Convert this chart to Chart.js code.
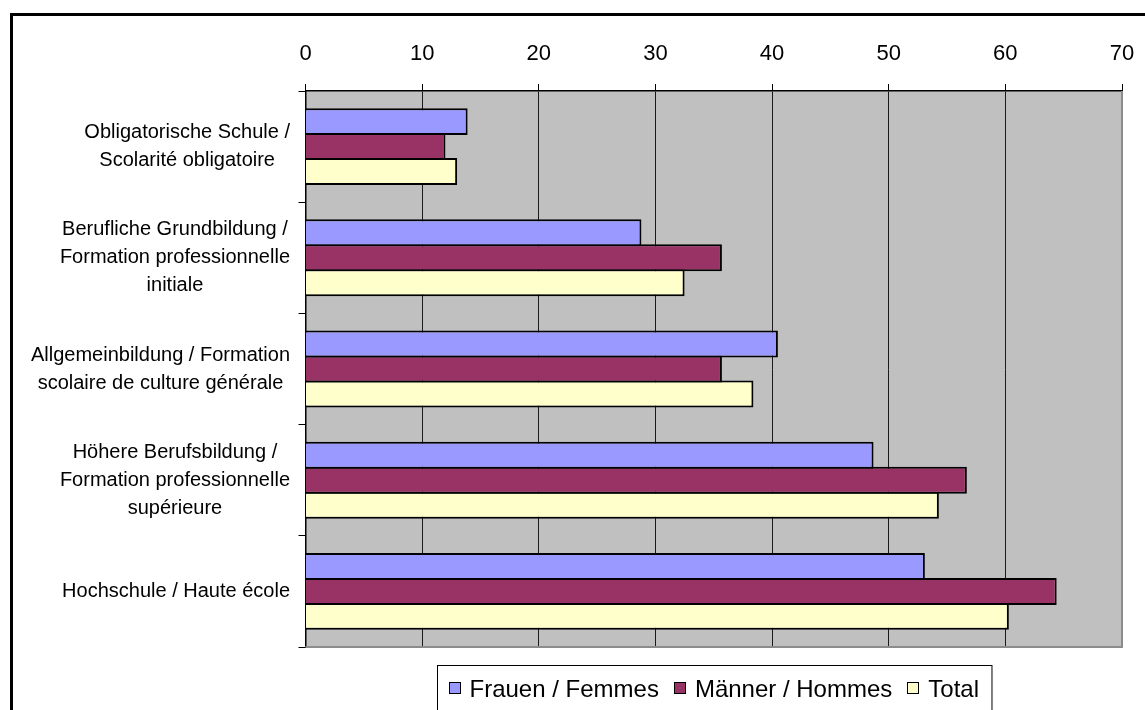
<!DOCTYPE html>
<html>
<head>
<meta charset="utf-8">
<script src="https://cdn.jsdelivr.net/npm/chart.js@4.4.1/dist/chart.umd.min.js"></script>
<style>
  html, body { margin: 0; padding: 0; background: #fff; }
  #wrap { position: absolute; left: 0; top: 0; width: 1145px; height: 710px; }
</style>
</head>
<body>
<div id="wrap"><canvas id="eduChart" width="1145" height="710"></canvas></div>
<script>
const categories = [
    ["Obligatorische Schule /", "Scolarité obligatoire"],
    ["Berufliche Grundbildung /", "Formation professionnelle", "initiale"],
    ["Allgemeinbildung / Formation", "scolaire de culture générale"],
    ["Höhere Berufsbildung /", "Formation professionnelle", "supérieure"],
    ["Hochschule / Haute école"]
];
const seriesNames = ["Frauen / Femmes", "Männer / Hommes", "Total"];
const frauen = [13.9, 28.8, 40.5, 48.7, 53.1];
const maenner = [12.0, 35.7, 35.7, 56.7, 64.4];
const total = [13.0, 32.5, 38.4, 54.3, 60.3];
const xMin = 0, xMax = 70, xStep = 10;

const FONT = '"Liberation Sans", Arial, sans-serif';

// frame, grey plot background
const backgroundPlugin = {
    id: 'bgPlot',
    beforeDraw(chart) {
        const ctx = chart.ctx;
        const a = chart.chartArea;
        ctx.save();
        ctx.fillStyle = '#000';
        ctx.fillRect(10, 13, 3, chart.height - 13);
        ctx.fillRect(10, 13, chart.width - 10, 3);
        ctx.fillStyle = '#c0c0c0';
        ctx.fillRect(a.left, a.top, a.right - a.left, a.bottom - a.top);
        ctx.restore();
    },
    afterDatasetsDraw(chart) {
        const ctx = chart.ctx;
        const a = chart.chartArea;
        ctx.save();
        ctx.strokeStyle = '#8c8c8c';
        ctx.lineWidth = 2;
        ctx.beginPath();
        ctx.moveTo(a.right, a.top);
        ctx.lineTo(a.right, a.bottom);
        ctx.lineTo(a.left, a.bottom);
        ctx.stroke();
        ctx.restore();
    }
};

// category labels: block right aligned, lines centred inside the block
const yLabelPlugin = {
    id: 'yLabels',
    afterDraw(chart) {
        const ctx = chart.ctx;
        const yScale = chart.scales.y;
        ctx.save();
        ctx.font = '20px ' + FONT;
        ctx.fillStyle = '#000';
        ctx.textAlign = 'center';
        ctx.textBaseline = 'middle';
        const lineH = 28;
        const rightEdge = 290;
        categories.forEach((lines, i) => {
            const y = yScale.getPixelForTick(i);
            const widest = Math.max(...lines.map(l => ctx.measureText(l).width));
            const cx = rightEdge - widest / 2;
            const y0 = y - (lines.length - 1) * lineH / 2;
            lines.forEach((l, k) => ctx.fillText(l, cx, y0 + k * lineH));
        });
        ctx.restore();
    }
};

// boxed legend under the plot
const legendPlugin = {
    id: 'boxLegend',
    afterDraw(chart) {
        const ctx = chart.ctx;
        const a = chart.chartArea;
        ctx.save();
        ctx.font = '24px ' + FONT;
        ctx.textBaseline = 'alphabetic';
        ctx.textAlign = 'left';
        const sw = 11, gapText = 10, gapItem = 15, padL = 11, padR = 13;
        const items = chart.data.datasets.map(ds => ({
            text: ds.label, color: ds.backgroundColor, w: ctx.measureText(ds.label).width
        }));
        const inner = items.reduce((s, it) => s + sw + gapText + it.w, 0) + gapItem * (items.length - 1);
        const boxW = inner + padL + padR;
        const boxLeft = Math.round((a.left + a.right) / 2 - boxW / 2) + 0.5;
        const boxTop = 665.5;
        ctx.strokeStyle = '#000';
        ctx.lineWidth = 1;
        ctx.strokeRect(boxLeft, boxTop, boxW, 80);
        let x = boxLeft + padL;
        const baseline = 697;
        items.forEach(it => {
            ctx.fillStyle = it.color;
            ctx.fillRect(Math.round(x), 682, sw, sw);
            ctx.strokeRect(Math.round(x) + 0.5, 682.5, sw, sw);
            x += sw + gapText;
            ctx.fillStyle = '#000';
            ctx.fillText(it.text, x, baseline);
            x += it.w + gapItem;
        });
        ctx.restore();
    }
};

const ctx = document.getElementById('eduChart').getContext('2d');
new Chart(ctx, {
    type: 'bar',
    data: {
        labels: categories,
        datasets: [
            { label: seriesNames[0], data: frauen, backgroundColor: '#9999ff' },
            { label: seriesNames[1], data: maenner, backgroundColor: '#993366' },
            { label: seriesNames[2], data: total, backgroundColor: '#ffffcc' }
        ]
    },
    options: {
        indexAxis: 'y',
        responsive: false,
        animation: false,
        devicePixelRatio: 1,
        layout: { padding: { left: 0, right: 23, top: 0, bottom: 63 } },
        datasets: {
            bar: {
                borderColor: '#000',
                borderWidth: 2,
                categoryPercentage: 0.674,
                barPercentage: 1.08
            }
        },
        plugins: {
            legend: { display: false },
            tooltip: { enabled: false }
        },
        scales: {
            x: {
                type: 'linear',
                position: 'top',
                min: xMin,
                max: xMax,
                afterFit(scale) {
                    scale.height = 91;
                    scale.paddingLeft = 0;
                    scale.paddingRight = 0;
                },
                ticks: {
                    stepSize: xStep,
                    color: '#000',
                    padding: 17,
                    font: { family: FONT, size: 22 }
                },
                grid: {
                    color: '#1a1a1a',
                    lineWidth: 1,
                    tickLength: 7,
                    tickColor: '#000'
                },
                border: { display: true, color: '#000', width: 1.5 }
            },
            y: {
                type: 'category',
                afterFit(scale) { scale.width = 305.5; },
                ticks: { display: false },
                grid: {
                    offset: true,
                    drawOnChartArea: false,
                    tickLength: 7,
                    color: '#000'
                },
                border: { display: true, color: '#000', width: 1.5 }
            }
        }
    },
    plugins: [backgroundPlugin, yLabelPlugin, legendPlugin]
});
</script>
</body>
</html>
